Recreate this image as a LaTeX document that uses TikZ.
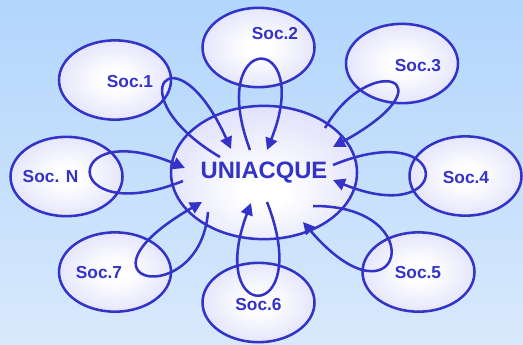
\documentclass[tikz,border=0pt]{standalone}
\usepackage{fontspec}
\setmainfont{Liberation Sans}
\usetikzlibrary{shapes.geometric,arrows.meta,calc}

\definecolor{socblue}{RGB}{51,51,200}
\definecolor{socfill}{RGB}{196,196,248}
\definecolor{skytop}{RGB}{178,214,252}
\definecolor{skybot}{RGB}{216,233,252}

\pgfdeclareradialshading{socshade}{\pgfpoint{0bp}{0bp}}{color(0bp)=(white); color(6bp)=(white); color(50bp)=(socfill)}
\pgfdeclareradialshading{unishade}{\pgfpoint{0bp}{-8bp}}{color(0bp)=(white); color(6bp)=(white); color(50bp)=(socfill)}

\tikzset{
  soc/.style={ellipse, draw=socblue, line width=1.9pt, shading=socshade,
    minimum width=84pt, minimum height=59.5pt, inner sep=0pt},
  soclabel/.style={text=socblue, font=\bfseries\fontsize{13}{15}\selectfont, inner sep=0pt},
  loopline/.style={draw=socblue, line width=1.9pt, -{Triangle[length=9pt,width=9pt]}}
}

\begin{document}
\begin{tikzpicture}[x=0.75pt, y=-0.75pt]

 % background
 \fill[top color=skytop, bottom color=skybot] (0,0) rectangle (523,344);
 \useasboundingbox (0,0) rectangle (523,344);

 % centre
 \node[soc, shading=unishade, minimum width=139.5pt, minimum height=100pt,
   text=socblue, font=\bfseries\fontsize{17.8}{20}\selectfont] (uni) at (264,172.5) {UNIACQUE};

 % companies
 \foreach \i/\ex/\ey/\lx/\ly/\name in {1/115/80/130/82/Soc.1, 2/258.5/47.5/275/34/Soc.2,
     3/402/63.5/418/66/Soc.3, 4/465.5/176/466/178/Soc.4, 5/418.5/272/418/273/Soc.5,
     6/258.5/302.5/258.5/305/Soc.6, 7/115/272/99/273/Soc.7, N/66.5/176.5/50.5/177/Soc. N} {
   \node[soc] (s\i) at (\ex,\ey) {};
   \node[soclabel] (l\i) at (\lx,\ly) {\name};
 }

 % loops
 \foreach \i/\sa/\ca/\cb/\ea in {1/{-44,-15.5}/{0,15}/{60,-55}/{-33,-23.5},
     2/{-14,-22.5}/{-53.5,-17.5}/{56.5,-17.5}/{3,-22.5},
     3/{61,-44.5}/{-32,-13.5}/{53,16.5}/{69,-25.5},
     4/{69,-7.5}/{-10.5,-61}/{-10.5,54}/{69,7.5},
     5/{49,33.5}/{16.5,-67}/{-18.5,63}/{39,49.5},
     6/{3,29.5}/{56.5,22.5}/{-53.5,22.5}/{-13,30.5},
     7/{-56,39.5}/{85,40}/{-55,12}/{-62,29.5},
     N/{-81,8.5}/{-6.5,53.5}/{-6.5,-61.5}/{-79,-4.5}}
   \draw[loopline] ($(uni)+(\sa)$) .. controls ($(s\i)+(\ca)$) and ($(s\i)+(\cb)$) .. ($(uni)+(\ea)$);

\end{tikzpicture}
\end{document}
